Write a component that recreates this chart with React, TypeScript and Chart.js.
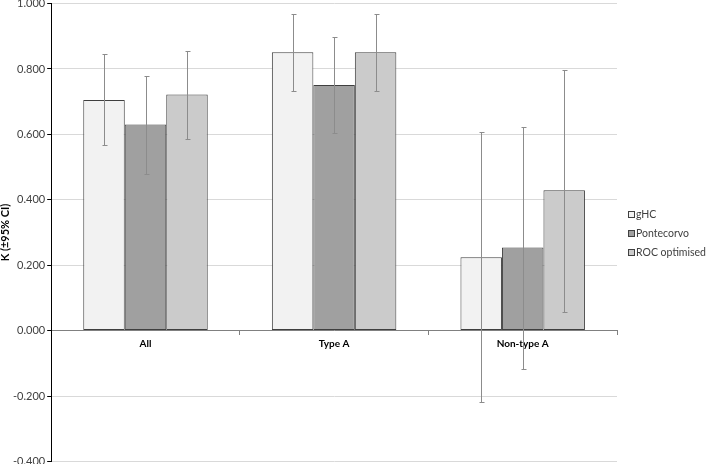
import React, { useEffect, useRef } from "react";
import { Chart, registerables } from "chart.js";

Chart.register(...registerables);

const categories = ["All", "Type A", "Non-type A"];
const seriesNames = ["gHC", "Pontecorvo", "ROC optimised"];
const gHC = [0.705, 0.851, 0.224];
const pontecorvo = [0.630, 0.751, 0.254];
const rocOptimised = [0.722, 0.851, 0.429];
const gHCLow = [0.568, 0.734, -0.217];
const gHCHigh = [0.846, 0.968, 0.608];
const pontecorvoLow = [0.478, 0.605, -0.116];
const pontecorvoHigh = [0.780, 0.897, 0.624];
const rocLow = [0.587, 0.734, 0.057];
const rocHigh = [0.856, 0.968, 0.797];
const yTicks = [-0.4, -0.2, 0, 0.2, 0.4, 0.6, 0.8, 1.0];

const lows = [gHCLow, pontecorvoLow, rocLow];
const highs = [gHCHigh, pontecorvoHigh, rocHigh];
const colors = ["#f2f2f2", "#a0a0a0", "#cbcbcb"];

const FONT = "Lato, 'Liberation Sans', sans-serif";

const errorBarPlugin = {
  id: "errorBars",
  afterDatasetsDraw(chart: any) {
    const ctx = chart.ctx;
    const y = chart.scales.y;
    ctx.save();
    ctx.strokeStyle = "#8c8c8c";
    ctx.lineWidth = 1;
    chart.data.datasets.forEach((ds: any, di: number) => {
      const meta = chart.getDatasetMeta(di);
      meta.data.forEach((el: any, i: number) => {
        const x = Math.round(el.x) + 0.5;
        const yl = Math.round(y.getPixelForValue(lows[di][i])) + 0.5;
        const yh = Math.round(y.getPixelForValue(highs[di][i])) + 0.5;
        ctx.beginPath();
        ctx.moveTo(x, yl);
        ctx.lineTo(x, yh);
        ctx.moveTo(x - 2, yl);
        ctx.lineTo(x + 3, yl);
        ctx.moveTo(x - 2, yh);
        ctx.lineTo(x + 3, yh);
        ctx.stroke();
      });
    });
    ctx.restore();
  },
};

const legendPlugin = {
  id: "sideLegend",
  afterDraw(chart: any) {
    const ctx = chart.ctx;
    const area = chart.chartArea;
    const midY = (area.top + area.bottom) / 2;
    const spacing = 19;
    const boxX = Math.round(area.right) + 11;
    ctx.save();
    ctx.font = `10.5px ${FONT}`;
    ctx.textBaseline = "middle";
    ctx.textAlign = "left";
    chart.data.datasets.forEach((ds: any, i: number) => {
      const cy = Math.round(midY + (i - 1) * spacing);
      ctx.fillStyle = ds.backgroundColor;
      ctx.fillRect(boxX, cy - 3, 6, 6);
      ctx.strokeStyle = "#404040";
      ctx.lineWidth = 1;
      ctx.strokeRect(boxX + 0.5, cy - 2.5, 6, 6);
      ctx.fillStyle = "#404040";
      ctx.fillText(ds.label, boxX + 8, cy + 0.5);
    });
    ctx.restore();
  },
};

export default function App() {
  const ref = useRef<HTMLCanvasElement>(null);
  useEffect(() => {
    if (!ref.current) return;
    const values = [gHC, pontecorvo, rocOptimised];
    const chart = new Chart(ref.current, {
      type: "bar",
      data: {
        labels: categories,
        datasets: seriesNames.map((name, i) => ({
          label: name,
          data: values[i],
          backgroundColor: colors[i],
          borderColor: "#3f3f3f",
          borderWidth: 1,
          borderSkipped: false,
          categoryPercentage: 0.66,
          barPercentage: 1.0,
        })),
      },
      options: {
        responsive: false,
        animation: false,
        layout: { padding: { top: 0, right: 91, bottom: 0, left: 0 } },
        plugins: {
          legend: { display: false },
          tooltip: { enabled: false },
        },
        scales: {
          x: {
            position: { y: 0 } as any,
            grid: {
              display: true,
              drawOnChartArea: false,
              drawTicks: true,
              tickLength: 4,
              offset: true,
              color: "#808080",
            },
            border: { color: "#808080", width: 1 },
            ticks: {
              color: "#000000",
              font: { family: FONT, size: 10, weight: "bold" },
              padding: 3,
            },
          },
          y: {
            min: -0.4,
            max: 1.0,
            afterBuildTicks: (axis: any) => {
              axis.ticks = yTicks.map((v) => ({ value: v }));
            },
            grid: {
              color: "#d9d9d9",
              drawTicks: true,
              tickLength: 4,
              tickColor: "#000000",
            },
            border: { color: "#000000", width: 1 },
            ticks: {
              color: "#404040",
              font: { family: FONT, size: 11 },
              padding: 2,
              callback: (v: any) => Number(v).toFixed(3),
            },
            title: {
              display: true,
              text: "K (±95% CI)",
              color: "#000000",
              font: { family: FONT, size: 11, weight: "bold", lineHeight: 1.0 },
              padding: { top: 0, bottom: 0 },
            },
          },
        },
      },
      plugins: [errorBarPlugin, legendPlugin],
    });
    return () => chart.destroy();
  }, []);
  return (
    <div style={{ position: "fixed", left: 0, top: 0, width: 708, height: 464, overflow: "hidden" }}>
      <canvas
        ref={ref}
        width={708}
        height={475}
        style={{ position: "absolute", left: 0, top: -5 }}
      />
    </div>
  );
}
